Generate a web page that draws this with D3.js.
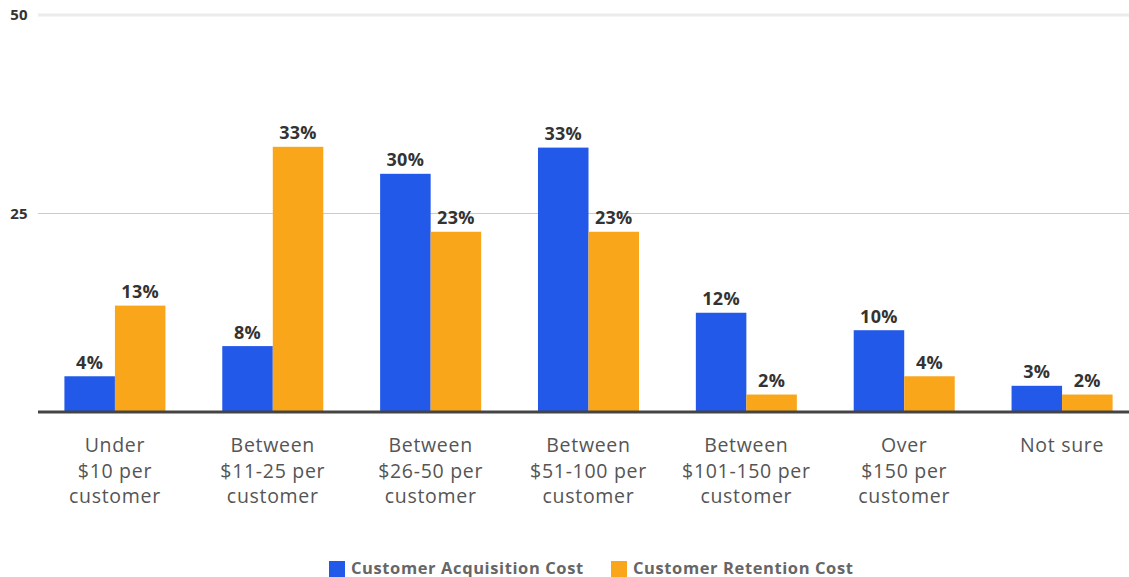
<!DOCTYPE html>
<html><head><meta charset="utf-8">
<script src="https://cdn.jsdelivr.net/npm/d3@7"></script>
<style>body{margin:0;background:#fff;} svg{display:block;}</style>
</head><body>
<svg id="chart" width="1129" height="577"></svg>
<script>
const categories = [
  ["Under", "$10 per", "customer"],
  ["Between", "$11-25 per", "customer"],
  ["Between", "$26-50 per", "customer"],
  ["Between", "$51-100 per", "customer"],
  ["Between", "$101-150 per", "customer"],
  ["Over", "$150 per", "customer"],
  ["Not sure"]
];
const seriesNames = ["Customer Acquisition Cost", "Customer Retention Cost"];
const acquisition = [4.5, 8.3, 30.0, 33.3, 12.5, 10.3, 3.3];
const retention = [13.4, 33.4, 22.7, 22.7, 2.2, 4.5, 2.2];
const acquisitionLabels = ["4%", "8%", "30%", "33%", "12%", "10%", "3%"];
const retentionLabels = ["13%", "33%", "23%", "23%", "2%", "4%", "2%"];
const yTicks = [25, 50];
const colors = ["#2359E9", "#F9A61B"];

const svg = d3.select("#chart");
const font = "'Open Sans', Lato, sans-serif";
const y = d3.scaleLinear().domain([0, 50]).range([412, 15]);
const x0 = d3.scaleBand().domain(d3.range(categories.length)).range([36, 1141]).padding(0);
const x1 = d3.scaleBand().domain([0, 1]).range([x0.bandwidth() * 0.18, x0.bandwidth() * 0.82]).padding(0);

// gridlines
yTicks.forEach(t => {
  svg.append("line").attr("x1", 38).attr("x2", 1129)
    .attr("y1", y(t)).attr("y2", y(t))
    .attr("stroke", t === 50 ? "#ececec" : "#cccccc")
    .attr("stroke-width", t === 50 ? 3 : 1.2);
  svg.append("text").attr("x", 28).attr("y", y(t)).attr("dy", "0.35em")
    .attr("text-anchor", "end").attr("font-family", font).attr("font-weight", "bold")
    .attr("font-size", 15).attr("letter-spacing", 0.3).attr("fill", "#333").text(t);
});

const data = categories.map((c, i) => ({
  i, vals: [acquisition[i], retention[i]], labels: [acquisitionLabels[i], retentionLabels[i]]
}));

const g = svg.selectAll("g.grp").data(data).enter().append("g")
  .attr("transform", d => `translate(${x0(d.i)},0)`);

g.selectAll("rect").data(d => d.vals.map((v, k) => ({v, k}))).enter().append("rect")
  .attr("x", d => x1(d.k)).attr("width", x1.bandwidth())
  .attr("y", d => y(d.v)).attr("height", d => y(0) - y(d.v))
  .attr("fill", d => colors[d.k]);

g.selectAll("text.val").data(d => d.vals.map((v, k) => ({v, k, l: d.labels[k]}))).enter().append("text")
  .attr("class", "val")
  .attr("x", d => x1(d.k) + x1.bandwidth() / 2).attr("y", d => y(d.v) - 7.5)
  .attr("text-anchor", "middle").attr("font-family", font).attr("font-weight", "bold")
  .attr("font-size", 18).attr("letter-spacing", 0.3).attr("fill", "#333").text(d => d.l);

// baseline
svg.append("line").attr("x1", 38).attr("x2", 1129).attr("y1", y(0)).attr("y2", y(0))
  .attr("stroke", "#444").attr("stroke-width", 3);

// category labels
data.forEach(d => {
  const t = svg.append("text").attr("text-anchor", "middle").attr("font-family", font)
    .attr("font-size", 19.5).attr("letter-spacing", 0.7).attr("fill", "#555");
  categories[d.i].forEach((line, j) => {
    t.append("tspan").attr("x", x0(d.i) + x0.bandwidth() / 2).attr("y", 452 + j * 25.5).text(line);
  });
});

// legend
const legendX = [329, 611];
seriesNames.forEach((n, k) => {
  svg.append("rect").attr("x", legendX[k]).attr("y", 561).attr("width", 16).attr("height", 16).attr("fill", colors[k]);
  svg.append("text").attr("x", legendX[k] + 22).attr("y", 573.5).attr("font-family", font)
    .attr("font-weight", "bold").attr("font-size", 16.5).attr("letter-spacing", 0.6).attr("fill", "#666").text(n);
});
</script>
</body></html>
